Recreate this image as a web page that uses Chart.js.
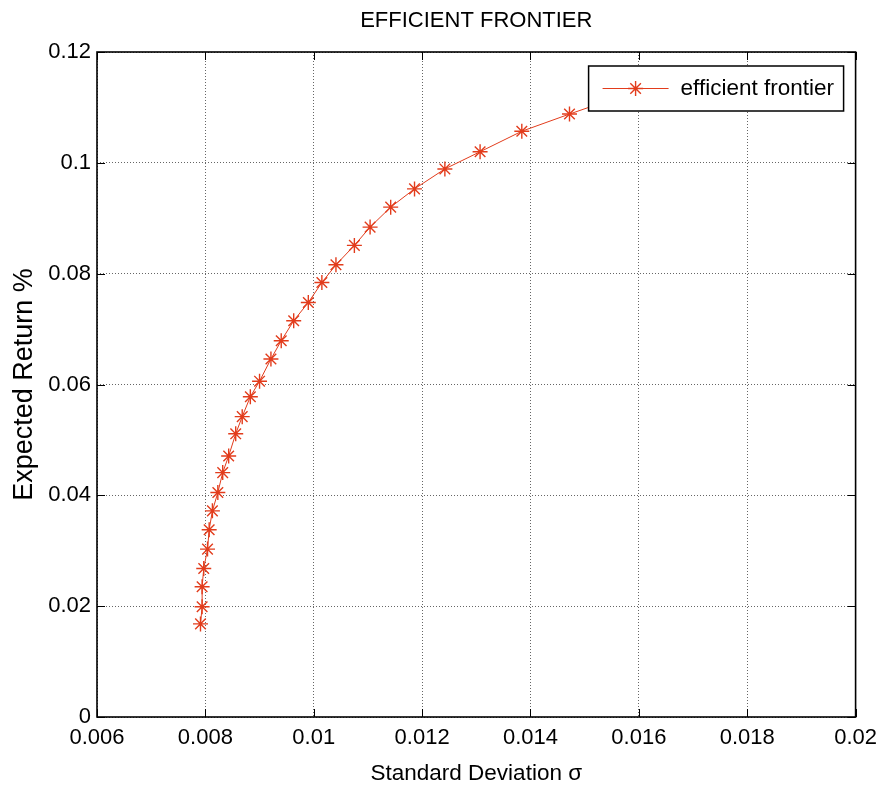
<!DOCTYPE html>
<html>
<head>
<meta charset="utf-8">
<script src="https://cdn.jsdelivr.net/npm/chart.js@4/dist/chart.umd.min.js"></script>
<style>
  html, body { margin: 0; background: #fff; }
  #wrap { width: 885px; height: 787px; }
</style>
</head>
<body>
<div id="wrap"><canvas id="chart"></canvas></div>
<script>
// standard deviation (x) and expected return (y) of each frontier point
const sigma = [0.00791, 0.00794, 0.00794, 0.00797, 0.00804, 0.00807, 0.00813, 0.00823,
               0.00832, 0.00843, 0.00856, 0.00868, 0.00883, 0.00900, 0.00921, 0.00940,
               0.00963, 0.00990, 0.01015, 0.01041, 0.01075, 0.01104, 0.01142, 0.01186,
               0.01242, 0.01307, 0.01384, 0.01472, 0.01572];
const expReturn = [0.0168, 0.0199, 0.0235, 0.0268, 0.0303, 0.0338, 0.0372, 0.0405,
                   0.0441, 0.0471, 0.0511, 0.0542, 0.0578, 0.0606, 0.0646, 0.0679,
                   0.0715, 0.0748, 0.0784, 0.0816, 0.0851, 0.0884, 0.0920, 0.0953,
                   0.0989, 0.1020, 0.1057, 0.1088, 0.1122];

const xTicks = [0.006, 0.008, 0.010, 0.012, 0.014, 0.016, 0.018, 0.020];
const xTickLabels = ['0.006', '0.008', '0.01', '0.012', '0.014', '0.016', '0.018', '0.02'];
const yTicks = [0, 0.02, 0.04, 0.06, 0.08, 0.10, 0.12];
const yTickLabels = ['0', '0.02', '0.04', '0.06', '0.08', '0.1', '0.12'];

const seriesName = 'efficient frontier';
const RED = '#e23c1c';
const FONT = "'Liberation Sans', Arial, sans-serif";

Chart.defaults.font.family = FONT;
Chart.defaults.color = '#000';

// box round the axes plus the small inward ticks
const frame = {
  id: 'frame',
  afterDatasetsDraw(chart) {
    const { ctx, chartArea: a, scales } = chart;
    ctx.save();
    ctx.strokeStyle = '#000';
    ctx.lineWidth = 1;
    ctx.beginPath();
    xTicks.forEach(v => {
      const px = Math.round(scales.x.getPixelForValue(v)) + 0.5;
      ctx.moveTo(px, a.bottom); ctx.lineTo(px, a.bottom - 8);
      ctx.moveTo(px, a.top); ctx.lineTo(px, a.top + 8);
    });
    yTicks.forEach(v => {
      const py = Math.round(scales.y.getPixelForValue(v)) + 0.5;
      ctx.moveTo(a.left, py); ctx.lineTo(a.left + 8, py);
      ctx.moveTo(a.right, py); ctx.lineTo(a.right - 8, py);
    });
    ctx.stroke();
    ctx.lineWidth = 1.6;
    ctx.strokeRect(a.left, a.top, a.right - a.left, a.bottom - a.top);
    ctx.restore();
  }
};

// opaque legend inside the axes, top right
const legendBox = {
  id: 'legendBox',
  afterDatasetsDraw(chart) {
    const { ctx, chartArea: a } = chart;
    const w = 255, h = 45;
    const x = a.right - 12 - w, y = a.top + 14, cy = y + h / 2;
    ctx.save();
    ctx.fillStyle = '#fff';
    ctx.fillRect(x, y, w, h);
    ctx.strokeStyle = '#000';
    ctx.lineWidth = 1.5;
    ctx.strokeRect(x, y, w, h);
    ctx.strokeStyle = RED;
    ctx.lineWidth = 1;
    ctx.beginPath();
    ctx.moveTo(x + 14, cy); ctx.lineTo(x + 80, cy);
    ctx.stroke();
    ctx.lineWidth = 1.4;
    Chart.helpers.drawPoint(ctx, { pointStyle: 'star', radius: 7.5, borderWidth: 1.4, rotation: 0 }, x + 47, cy);
    ctx.fillStyle = '#000';
    ctx.font = "22.5px " + FONT;
    ctx.textBaseline = 'middle';
    ctx.fillText(seriesName, x + 92, cy);
    ctx.restore();
  }
};

new Chart(document.getElementById('chart'), {
  type: 'scatter',
  data: {
    datasets: [{
      label: seriesName,
      data: sigma.map((s, i) => ({ x: s, y: expReturn[i] })),
      showLine: true,
      borderColor: RED,
      borderWidth: 1,
      pointStyle: 'star',
      pointRadius: 7.5,
      pointHoverRadius: 7.5,
      pointBorderColor: RED,
      pointBorderWidth: 1.4,
      pointBackgroundColor: RED
    }]
  },
  options: {
    responsive: true,
    maintainAspectRatio: false,
    animation: false,
    events: [],
    layout: { padding: { right: 28 } },
    plugins: {
      legend: { display: false },
      tooltip: { enabled: false },
      title: {
        display: true,
        text: 'EFFICIENT FRONTIER',
        fullSize: false,
        color: '#000',
        font: { size: 22, weight: 'normal' },
        padding: { top: 8, bottom: 17.6 }
      }
    },
    scales: {
      x: {
        type: 'linear',
        min: 0.006,
        max: 0.02,
        afterBuildTicks: s => { s.ticks = xTicks.map(v => ({ value: v })); },
        afterFit: s => { s.height = 70; },
        ticks: {
          autoSkip: false,
          maxRotation: 0,
          padding: 8,
          font: { size: 22 },
          callback: (v, i) => xTickLabels[i]
        },
        grid: { color: '#666', drawTicks: false },
        border: { display: false, dash: [1, 2] },
        title: {
          display: true,
          text: 'Standard Deviation σ',
          font: { size: 22.5 },
          padding: { top: 0, bottom: 0 }
        }
      },
      y: {
        min: 0,
        max: 0.12,
        afterBuildTicks: s => { s.ticks = yTicks.map(v => ({ value: v })); },
        afterFit: s => { s.width = 97; },
        ticks: {
          autoSkip: false,
          padding: 6,
          font: { size: 22 },
          callback: (v, i) => yTickLabels[i]
        },
        grid: { color: '#666', drawTicks: false },
        border: { display: false, dash: [1, 2] },
        title: {
          display: true,
          text: 'Expected Return %',
          font: { size: 27 },
          padding: { top: 8, bottom: 0 }
        }
      }
    }
  },
  plugins: [frame, legendBox]
});
</script>
</body>
</html>
